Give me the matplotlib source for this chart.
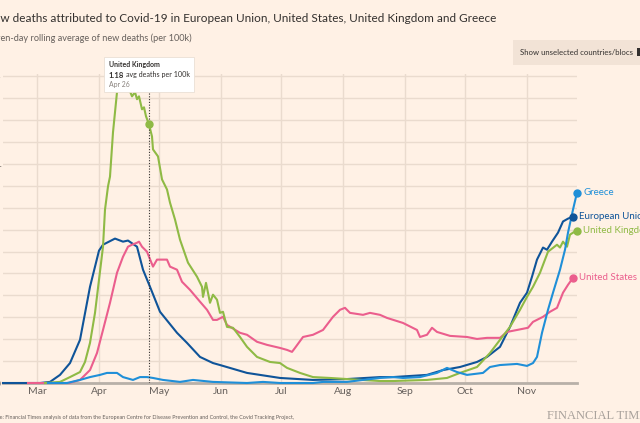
import pandas as pd
import matplotlib
matplotlib.use("Agg")
import matplotlib.pyplot as plt
from matplotlib.patches import Rectangle

plt.rcParams['font.family'] = ['Lato', 'DejaVu Sans']

# seven-day average of new deaths per 100k
# x values are days after 1 March 2020
start = pd.Timestamp("2020-03-01")

eu_days = [-17, 1.5, 6.5, 11.5, 16.5, 21.5, 26.5, 31, 33, 39, 43, 45.5, 50, 53, 56.5,
           61.5, 70, 75, 81.5, 88, 91.5, 105, 121.5, 138, 155, 171.5, 178, 195, 203,
           211.5, 220, 225, 231.5, 236.5, 241.5, 245, 247.5, 250, 253, 255, 257.5,
           260.5, 263, 265.5, 268]
eu_vals = [0, 0, 0.005, 0.037, 0.091, 0.197, 0.439, 0.604, 0.631, 0.659, 0.645, 0.65,
           0.622, 0.517, 0.439, 0.325, 0.229, 0.183, 0.119, 0.091, 0.082, 0.046, 0.023,
           0.014, 0.018, 0.027, 0.027, 0.037, 0.059, 0.073, 0.096, 0.119, 0.165, 0.256,
           0.366, 0.412, 0.485, 0.563, 0.618, 0.608, 0.645, 0.686, 0.737, 0.75, 0.759]

us_days = [-4.5, 16, 21.5, 26.5, 30, 33, 36.5, 40, 43, 45.5, 47.5, 50, 51, 52.5, 55, 58,
           60, 63, 65, 66.5, 70, 72.5, 76.5, 81.5, 85, 88, 90, 93, 95, 101.5, 105, 110,
           115, 121.5, 125, 127.5, 129, 133, 138, 143, 148, 151.5, 154, 156.5, 163,
           166.5, 171.5, 175, 183, 190, 191.5, 195, 197.5, 200, 206.5, 215, 220, 225,
           231.5, 235, 240, 245.5, 248, 253, 256.5, 260, 263, 265.5, 268]
us_vals = [0, 0, 0.014, 0.059, 0.137, 0.242, 0.366, 0.503, 0.576, 0.622, 0.631, 0.64,
           0.645, 0.622, 0.599, 0.531, 0.563, 0.563, 0.563, 0.531, 0.517, 0.462, 0.425,
           0.371, 0.334, 0.288, 0.288, 0.302, 0.265, 0.229, 0.22, 0.188, 0.174, 0.16,
           0.151, 0.142, 0.16, 0.21, 0.22, 0.242, 0.302, 0.334, 0.343, 0.32, 0.311,
           0.32, 0.311, 0.297, 0.274, 0.242, 0.21, 0.22, 0.252, 0.233, 0.215, 0.21,
           0.201, 0.206, 0.206, 0.233, 0.242, 0.252, 0.279, 0.302, 0.325, 0.343, 0.412,
           0.448, 0.48]

uk_days = [4, 11.5, 16.5, 21.5, 24, 26.5, 29, 31, 33, 34, 35.5, 36.5, 38, 40, 41.5,
           44.5, 46.5, 47.5, 49, 50, 51, 52.5, 53.5, 54.5, 56, 57.5, 58, 60.5, 62.5,
           65, 66.5, 69, 71.5, 75.5, 80, 82.5, 83, 84.5, 86.5, 88, 90, 91.5, 93, 95,
           98, 101.5, 105, 110, 116.5, 121.5, 125, 131.5, 138, 146.5, 155, 171.5, 178,
           195, 205, 211.5, 220, 226.5, 231.5, 236.5, 241.5, 245, 248, 251.5, 255.5,
           260, 261.5, 263, 265, 266.5, 268, 270]
uk_vals = [0, 0.005, 0.027, 0.05, 0.096, 0.183, 0.32, 0.471, 0.622, 0.791, 0.897,
           0.942, 1.144, 1.327, 1.376, 1.385, 1.331, 1.308, 1.327, 1.295, 1.308, 1.249,
           1.258, 1.217, 1.18, 1.125, 1.066, 1.034, 0.929, 0.883, 0.823, 0.746, 0.654,
           0.549, 0.485, 0.439, 0.393, 0.457, 0.366, 0.403, 0.38, 0.32, 0.325, 0.256,
           0.252, 0.21, 0.165, 0.119, 0.096, 0.091, 0.069, 0.046, 0.027, 0.023, 0.018,
           0.009, 0.009, 0.014, 0.023, 0.046, 0.073, 0.137, 0.197, 0.256, 0.334, 0.393,
           0.439, 0.503, 0.599, 0.631, 0.618, 0.645, 0.622, 0.677, 0.686, 0.695]

gr_days = [5.5, 15, 21.5, 26.5, 31.5, 35, 40, 43, 48, 51.5, 55, 58, 63, 71.5, 78, 88,
           105, 113, 121.5, 138, 143, 155, 163, 171.5, 178, 183, 191.5, 200, 205, 210,
           215, 223, 226.5, 231.5, 240, 245, 248, 250, 252.5, 255.5, 258, 261.5, 264,
           265.5, 268, 270]
gr_vals = [0, 0, 0.014, 0.027, 0.037, 0.046, 0.046, 0.027, 0.014, 0.027, 0.027, 0.023,
           0.014, 0.005, 0.014, 0.005, 0, 0.005, 0, 0, 0.005, 0.005, 0.014, 0.023, 0.027,
           0.023, 0.027, 0.046, 0.069, 0.05, 0.037, 0.046, 0.073, 0.082, 0.087, 0.078,
           0.091, 0.119, 0.229, 0.334, 0.412, 0.517, 0.608, 0.686, 0.791, 0.869]

names = ["European Union", "United States", "United Kingdom", "Greece"]
colors = ["#0f5499", "#eb5e8d", "#8fba45", "#1f8fd8"]
months = ["Mar", "Apr", "May", "Jun", "Jul", "Aug", "Sep", "Oct", "Nov"]
yticks = [0, 0.1, 0.2, 0.3, 0.4, 0.5, 0.6, 0.7, 0.8, 0.9, 1.0, 1.1, 1.2, 1.3, 1.4]

bg = "#fff1e5"
W, H = 640, 423

fig = plt.figure(figsize=(6.4, 4.23), dpi=100, facecolor=bg)
ax = fig.add_axes([3 / W, 1 - 383 / H, 574 / W, 309 / H])
ax.set_facecolor(bg)
for s in ax.spines.values():
    s.set_visible(False)
r = fig.canvas.get_renderer()


def fx(px):
    return px / W


def fy(py):
    return 1 - py / H


def fit(t, width_px):
    w = t.get_window_extent(r).width
    t.set_fontsize(t.get_fontsize() * width_px / w)
    return t


series = [(eu_days, eu_vals), (us_days, us_vals), (uk_days, uk_vals), (gr_days, gr_vals)]
for (d, v), name, c in zip(series, names, colors):
    dates = start + pd.to_timedelta(d, unit="D")
    ax.plot(dates, v, color=c, lw=1.5, zorder=3, clip_on=False, solid_joinstyle="round")
    ax.plot(dates[-1], v[-1], "o", color=c, ms=5, zorder=4, clip_on=False)
    ax.annotate(name, (dates[-1], v[-1]), xytext=(6, 0), textcoords="offset pixels",
                color=c, fontsize=7.0, va="center", ha="left", annotation_clip=False)

ax.set_xlim(start - pd.Timedelta(days=17), start + pd.Timedelta(days=270))
ax.set_ylim(0, 1.41)

month_dates = pd.date_range("2020-03-01", periods=len(months), freq="MS")
ax.set_xticks(month_dates)
ax.set_xticklabels(months)
ax.set_yticks(yticks)
ax.set_yticklabels([f"{t:.1f}".rstrip("0").rstrip(".") if t else "0" for t in yticks])
ax.tick_params(axis="x", length=0, pad=3, labelsize=7.5, labelcolor="#66605c")
ax.tick_params(axis="y", length=0, pad=1.5, labelsize=7.5, labelcolor="#66605c")
ax.grid(True, color="#eadbce", lw=1)
ax.set_axisbelow(True)
ax.axhline(0, color="#b8b0a8", lw=2, zorder=2, clip_on=False)

# hover marker
hover = pd.Timestamp("2020-04-26")
ax.axvline(hover, ymin=0, ymax=(383 - 92) / 309, color="#33302e", ls=(0, (1, 1.5)), lw=0.8, zorder=3.5)
ax.plot(hover, 1.18, "o", color=colors[2], ms=5, zorder=5)


def clipped_text(hidden, shown, y, width_px, size, **kw):
    t = fig.text(0, y, shown, fontsize=size, **kw)
    fit(t, width_px)
    h = fig.text(0, y, hidden, fontsize=t.get_fontsize(), **kw)
    hw = h.get_window_extent(r).width
    h.remove()
    t.set_text(hidden + shown)
    t.set_x(-hw / W)
    return t


clipped_text("Ne", "w deaths attributed to Covid-19 in European Union, United States, United Kingdom and Greece",
             fy(18), 492, 10, color="#33302e", va="center")
clipped_text("Sev", "en-day rolling average of new deaths (per 100k)",
             fy(38), 190, 7.5, color="#66605c", va="center")
clipped_text("Sourc", "e: Financial Times analysis of data from the European Centre for Disease Prevention and Control, the Covid Tracking Project,",
             fy(417), 296, 6, color="#66605c", va="center")

# button
fig.add_artist(Rectangle((fx(513), fy(65)), fx(140), 25 / H, transform=fig.transFigure,
                         fc="#f2e3d6", ec="none", zorder=5))
fit(fig.text(fx(520), fy(52.5), "Show unselected countries/blocs", fontsize=6,
             color="#33302e", va="center", zorder=6), 113)
fig.add_artist(Rectangle((fx(637), fy(56)), fx(6), 8 / H, transform=fig.transFigure,
                         fc="#33302e", ec="none", zorder=6))

# tooltip
fig.add_artist(Rectangle((fx(104), fy(92)), fx(90), 35 / H, transform=fig.transFigure,
                         fc="white", ec="#eadfd5", lw=0.6, zorder=10))
fit(fig.text(fx(109), fy(64), "United Kingdom", fontsize=6, color="#33302e",
             fontweight="bold", va="center", zorder=11), 51)
t1 = fig.text(fx(109), fy(75), "1.18", fontsize=5.6, color="#33302e",
              fontweight="bold", va="center", zorder=11)
w1 = t1.get_window_extent(r).width
fit(fig.text(fx(109 + w1 + 2), fy(75), "avg deaths per 100k", fontsize=6, color="#33302e",
             va="center", zorder=11), 81 - w1 - 2)
fit(fig.text(fx(109), fy(85), "Apr 26", fontsize=6, color="#8a837e", va="center",
             zorder=11), 21)

fig.text(fx(547), fy(416), "FINANCIAL TIMES", fontsize=9, color="#a8a19b",
         family=["Liberation Serif", "DejaVu Serif"], va="center")

fig.savefig("out.png", dpi=100, facecolor=bg)
